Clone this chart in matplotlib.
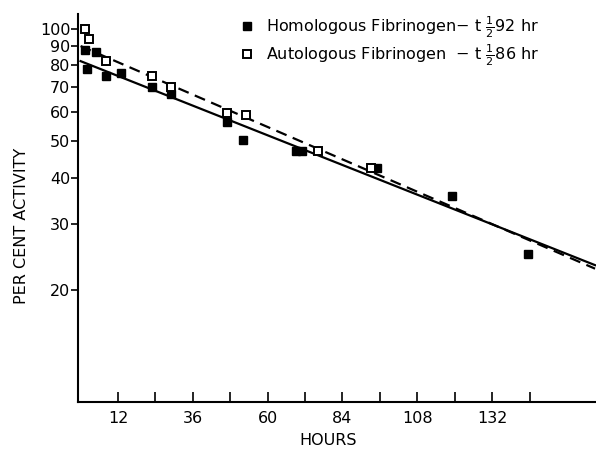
import matplotlib.pyplot as plt
from matplotlib.ticker import NullLocator

# homologous fibrinogen (filled squares)
homologous_hours = [1.5, 2, 5, 8, 13, 23, 29, 47, 52, 69, 71, 95, 119, 143.5]
homologous_pct = [88, 78, 87, 75, 76, 70, 67, 56.5, 50.5, 47, 47, 42.5, 35.7, 25]

# autologous fibrinogen (open squares)
autologous_hours = [1.5, 2.6, 8, 23, 29, 47, 53, 76, 93]
autologous_pct = [100, 94, 82, 75, 70, 59.5, 59, 47, 42.5]

# fitted lines (end points)
fit_hours = [0, 165]
homologous_fit = [82, 23.3]
autologous_fit = [90, 22.8]

x_ticks = [12, 24, 36, 48, 60, 72, 84, 96, 108, 120, 132, 144]
x_labels = ['12', '', '36', '', '60', '', '84', '', '108', '', '132', '']
y_ticks = [20, 30, 40, 50, 60, 70, 80, 90, 100]

plt.rcParams['font.family'] = 'DejaVu Sans'

fig = plt.figure(figsize=(5.96, 4.5), dpi=100)
ax = fig.add_axes([0.131, 0.106, 0.869, 0.864])

ax.plot(fit_hours, homologous_fit, color='black', lw=1.6)
ax.plot(fit_hours, autologous_fit, color='black', lw=1.6,
        linestyle=(0, (5, 3)))
line1, = ax.plot(homologous_hours, homologous_pct, 's', color='black',
                 markersize=6, linestyle='none', clip_on=False,
                 label=r'Homologous Fibrinogen$-$ t $\frac{1}{2}$92 hr')
line2, = ax.plot(autologous_hours, autologous_pct, 's', markersize=6,
                 markerfacecolor='white', markeredgecolor='black',
                 markeredgewidth=1.4, linestyle='none', clip_on=False,
                 label=r'Autologous Fibrinogen  $-$ t $\frac{1}{2}$86 hr')

ax.set_yscale('log')
ax.set_xlim(-0.8, 165.3)
ax.set_ylim(10, 110)
ax.set_yticks(y_ticks)
ax.set_yticklabels([str(v) for v in y_ticks])
ax.yaxis.set_minor_locator(NullLocator())
ax.set_xticks(x_ticks)
ax.set_xticklabels(x_labels)

ax.spines['top'].set_visible(False)
ax.spines['right'].set_visible(False)
ax.spines['left'].set_linewidth(1.5)
ax.spines['bottom'].set_linewidth(1.5)
ax.tick_params(axis='x', direction='in', length=7, width=1.2,
               labelsize=11.5, pad=6)
ax.tick_params(axis='y', direction='out', length=5, width=1.2,
               labelsize=11.5, pad=0.5)

ax.set_xlabel('HOURS', fontsize=11.5)
ax.set_ylabel('PER CENT ACTIVITY', fontsize=11.5)
ax.xaxis.set_label_coords(0.482, -0.079)
ax.yaxis.set_label_coords(-0.095, 0.454)

ax.legend(handles=[line1, line2], loc='upper left',
          bbox_to_anchor=(0.286, 1.034), frameon=False, fontsize=11.5,
          handlelength=0.8, handletextpad=0.8, labelspacing=0.1)

plt.savefig('out.png', dpi=100)
